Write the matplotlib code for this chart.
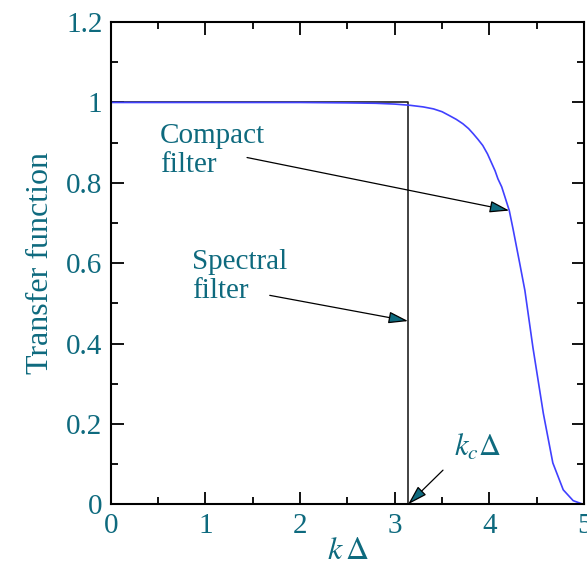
import matplotlib
matplotlib.use("Agg")
import matplotlib.pyplot as plt
import numpy as np
from matplotlib.ticker import MultipleLocator

# spectral (sharp cut-off) filter
kc = np.pi
k_spec = [0.0, kc, kc]
T_spec = [1.0, 1.0, 0.0]

# compact filter transfer function
k_comp = [0.0, 2.0, 2.5, 2.8, 3.0, 3.16, 3.3, 3.41, 3.5, 3.58, 3.65, 3.72,
          3.78, 3.83, 3.88, 3.93, 3.98, 4.02, 4.06, 4.09, 4.13, 4.16, 4.21,
          4.25, 4.32, 4.375, 4.46, 4.57, 4.67, 4.78, 4.885, 4.99]
T_comp = [1.0, 1.0, 0.999, 0.998, 0.996, 0.993, 0.989, 0.984, 0.977, 0.967,
          0.958, 0.947, 0.935, 0.922, 0.908, 0.893, 0.872, 0.851, 0.830,
          0.810, 0.790, 0.768, 0.731, 0.685, 0.600, 0.532, 0.39, 0.226,
          0.103, 0.036, 0.009, 0.0]

teal = '#0e6a7e'
plt.rcParams['font.family'] = ['Liberation Serif', 'DejaVu Serif']
plt.rcParams['mathtext.fontset'] = 'stix'

fig = plt.figure(figsize=(5.87, 5.67), dpi=100)
ax = fig.add_axes([0.1886, 0.1106, 0.995 - 0.1886, 0.961 - 0.1106])

ax.plot(k_spec, T_spec, color='#222222', lw=1.2)
ax.plot(k_comp, T_comp, color='#4040ff', lw=1.2)

ax.set_xlim(0, 5)
ax.set_ylim(0, 1.2)
ax.xaxis.set_major_locator(MultipleLocator(1))
ax.xaxis.set_minor_locator(MultipleLocator(0.5))
ax.yaxis.set_major_locator(MultipleLocator(0.2))
ax.yaxis.set_minor_locator(MultipleLocator(0.1))
ax.set_yticks([0, 0.2, 0.4, 0.6, 0.8, 1.0, 1.2])
ax.set_yticklabels(['0', '0.2', '0.4', '0.6', '0.8', '1', '1.2'])

ax.tick_params(which='both', direction='in', top=True, right=True,
               labelsize=21, labelcolor=teal, color='black', width=1.3)
ax.tick_params(which='major', length=9, pad=6)
ax.tick_params(which='minor', length=5)
for s in ax.spines.values():
    s.set_linewidth(1.5)

ax.set_ylabel('Transfer function', fontsize=23, color=teal, labelpad=8)
ax.set_xlabel(r'$k\,\Delta$', fontsize=23, color=teal, labelpad=-1)

aprops = dict(arrowstyle='-|>,head_length=0.6,head_width=0.18',
              mutation_scale=20, fc=teal, ec='black', lw=0.9,
              shrinkA=0, shrinkB=0)

ax.text(0.52, 0.95, 'Compact\nfilter', fontsize=21, color=teal,
        va='top', ha='left', linespacing=1.15)
ax.annotate('', xy=(4.21, 0.731), xytext=(1.44, 0.863), arrowprops=aprops)

ax.text(0.86, 0.635, 'Spectral\nfilter', fontsize=21, color=teal,
        va='top', ha='left', linespacing=1.15)
ax.annotate('', xy=(kc, 0.456), xytext=(1.68, 0.52), arrowprops=aprops)

ax.text(3.63, 0.14, r'$k_c\Delta$', fontsize=22, color=teal,
        va='center', ha='left')
ax.annotate('', xy=(kc, 0.0), xytext=(3.51, 0.085), arrowprops=aprops)

fig.savefig('out.png', dpi=100)
